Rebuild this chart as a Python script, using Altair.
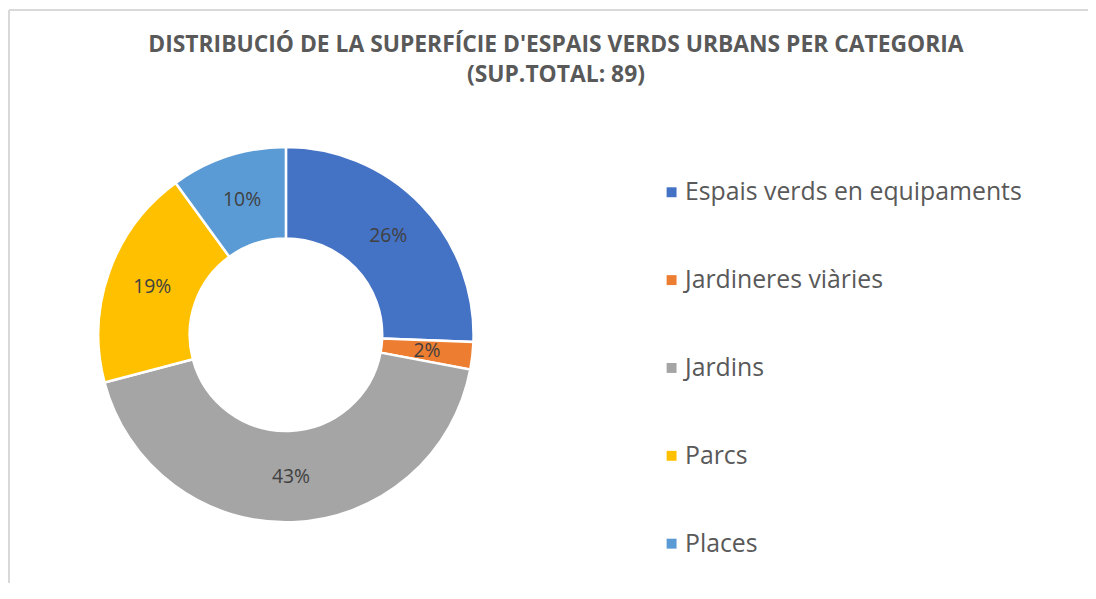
import altair as alt
import pandas as pd

categories = ["Espais verds en equipaments", "Jardineres viàries", "Jardins", "Parcs", "Places"]
values = [22.8, 2.1, 38.2, 17.0, 8.9]
colors = ["#4472C4", "#ED7D31", "#A5A5A5", "#FFC000", "#5B9BD5"]
title_lines = ["DISTRIBUCIÓ DE LA SUPERFÍCIE D'ESPAIS VERDS URBANS PER CATEGORIA", "(SUP.TOTAL: 89)"]

total = sum(values)
df = pd.DataFrame({
    "categoria": categories,
    "valor": values,
    "ordre": list(range(len(categories))),
    "etiqueta": [f"{round(v / total * 100)}%" for v in values],
})

FONT = "Open Sans"
CX, CY = 280, 327

base = alt.Chart(df).encode(
    theta=alt.Theta("valor:Q", stack=True),
    order=alt.Order("ordre:Q"),
)

arcs = base.mark_arc(radius=189, radius2=97, stroke="white", strokeWidth=2.5).encode(
    x=alt.value(CX),
    y=alt.value(CY),
    color=alt.Color(
        "categoria:N",
        scale=alt.Scale(domain=categories, range=colors),
        sort=categories,
        legend=alt.Legend(
            title=None,
            orient="none",
            legendX=656,
            legendY=171,
            symbolType="square",
            symbolSize=100,
            symbolStrokeWidth=0,
            labelFont=FONT,
            labelFontSize=25,
            labelColor="#595959",
            labelOffset=1,
            rowPadding=62.5,
            labelLimit=500,
        ),
    ),
)

labels = base.mark_text(radius=143, font=FONT, fontSize=19.5, color="#404040").encode(
    x=alt.value(CX),
    y=alt.value(CY),
    text="etiqueta:N",
)

frame = alt.Chart(alt.Data(values=[{}]))
top_rule = frame.mark_rule(color="#D9D9D9", strokeWidth=2).encode(
    x=alt.value(1), x2=alt.value(1100), y=alt.value(0)
)
left_rule = frame.mark_rule(color="#D9D9D9", strokeWidth=2).encode(
    x=alt.value(1), y=alt.value(0), y2=alt.value(600)
)

chart = alt.layer(top_rule, left_rule, arcs, labels).properties(
    width=1088,
    height=575,
    padding={"top": 0, "left": 0, "right": 0, "bottom": 0},
    autosize=alt.AutoSizeParams(type="none"),
    title=alt.Title(
        text=title_lines,
        font=FONT,
        fontSize=23,
        fontWeight="bold",
        color="#595959",
        lineHeight=30,
        anchor="middle",
        frame="group",
        offset=-78,
        dx=8,
    ),
).configure(background="white").configure_view(strokeWidth=0, stroke="transparent")

chart.save("out.html", embed_options={"renderer": "svg", "actions": False})
